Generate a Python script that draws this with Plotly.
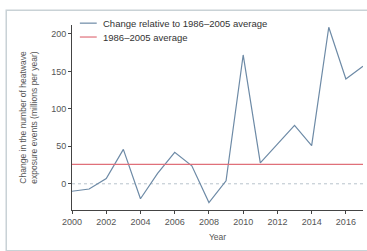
import plotly.graph_objects as go

years = list(range(2000, 2018))
change = [-10, -7, 7, 46, -20, 14, 42, 24, -25, 4, 172, 28, 53, 78, 51, 209, 140, 157]
baseline_value = 26
x_ticks = [2000, 2002, 2004, 2006, 2008, 2010, 2012, 2014, 2016]
y_ticks = [0, 50, 100, 150, 200]
legend_labels = ["Change relative to 1986–2005 average", "1986–2005 average"]

BLUE = "#6d8aa6"
RED = "#e0707a"
FONT = "Liberation Sans Narrow, Liberation Sans, Arial Narrow, sans-serif"

fig = go.Figure()
fig.add_trace(go.Scatter(
    x=[years[0], years[-1]], y=[0, 0], mode="lines",
    line=dict(color="#b8c4cc", width=1, dash="dot"), showlegend=False, hoverinfo="skip"))
fig.add_trace(go.Scatter(
    x=years, y=change, mode="lines", name=legend_labels[0],
    line=dict(color=BLUE, width=1.2), showlegend=False))
fig.add_trace(go.Scatter(
    x=[years[0], years[-1]], y=[baseline_value, baseline_value], mode="lines",
    name=legend_labels[1], line=dict(color=RED, width=1.2), showlegend=False))

# manual legend (compact), paper coordinates
leg_y = [1.01, 0.935]
shapes = [dict(type="rect", xref="paper", yref="paper", x0=-0.226, x1=1.03, y0=-0.22, y1=1.08,
               line=dict(color="#c9d2d6", width=1.5), fillcolor="rgba(0,0,0,0)", layer="below")]
annotations = []
for lab, col, yy in zip(legend_labels, [BLUE, RED], leg_y):
    shapes.append(dict(type="line", xref="paper", yref="paper", x0=0.027, x1=0.085, y0=yy, y1=yy,
                       line=dict(color=col, width=1.2)))
    annotations.append(dict(xref="paper", yref="paper", x=0.1, y=yy, text=lab, showarrow=False,
                            xanchor="left", yanchor="middle",
                            font=dict(family=FONT, size=9.5, color="#333")))

fig.update_layout(
    width=367, height=251,
    margin=dict(l=72, r=4, t=25, b=41),
    paper_bgcolor="white", plot_bgcolor="white",
    font=dict(family=FONT, size=9, color="#555"),
    showlegend=False,
    xaxis=dict(range=[2000, 2017], tickvals=x_ticks, ticks="outside", ticklen=3,
               tickcolor="#444", showline=True, linecolor="#444", linewidth=1,
               showgrid=False, zeroline=False, automargin=False,
               tickfont=dict(size=9, color="#555"),
               title=dict(text="Year", font=dict(size=8.5, color="#555"), standoff=8)),
    yaxis=dict(range=[-35, 212], tickvals=y_ticks, ticks="outside", ticklen=3,
               tickcolor="#444", showline=True, linecolor="#444", linewidth=1,
               showgrid=False, zeroline=False, automargin=False,
               tickfont=dict(size=9, color="#555"),
               title=dict(text="Change in the number of heatwave<br>exposure events (millions per year)",
                          font=dict(size=8.5, color="#555"), standoff=12)),
    shapes=shapes,
    annotations=annotations,
)

fig.write_html("out.html", config={"displayModeBar": False},
               post_script="document.body.style.margin='0';document.body.style.overflow='hidden';")
